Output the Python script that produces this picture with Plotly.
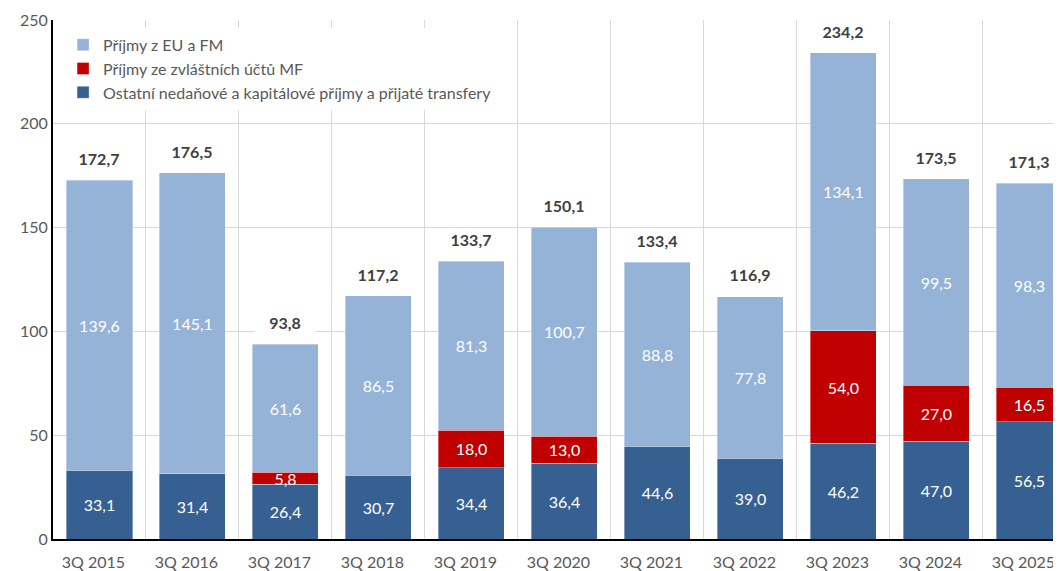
import plotly.graph_objects as go

categories = ["3Q 2015", "3Q 2016", "3Q 2017", "3Q 2018", "3Q 2019", "3Q 2020",
              "3Q 2021", "3Q 2022", "3Q 2023", "3Q 2024", "3Q 2025"]
ostatni = [33.1, 31.4, 26.4, 30.7, 34.4, 36.4, 44.6, 39.0, 46.2, 47.0, 56.5]
zvlastni_ucty = [None, None, 5.8, None, 18.0, 13.0, None, None, 54.0, 27.0, 16.5]
eu_fm = [139.6, 145.1, 61.6, 86.5, 81.3, 100.7, 88.8, 77.8, 134.1, 99.5, 98.3]
totals = [172.7, 176.5, 93.8, 117.2, 133.7, 150.1, 133.4, 116.9, 234.2, 173.5, 171.3]

names = ["Ostatní nedaňové a kapitálové příjmy a přijaté transfery",
         "Příjmy ze zvláštních účtů MF",
         "Příjmy z EU a FM"]
colors = ["#376092", "#C00000", "#95B3D7"]

FONT = "Lato"
def fmt(v):
    return "" if v is None else f"{v:.1f}".replace(".", ",")

fig = go.Figure()
for name, vals, col in zip(names, [ostatni, zvlastni_ucty, eu_fm], colors):
    fig.add_trace(go.Bar(
        x=categories, y=vals, name=name,
        marker=dict(color=col, line=dict(color="rgba(255,255,255,0.45)", width=0.8)),
        text=[fmt(v) for v in vals], textposition="inside",
        insidetextanchor="middle", constraintext="none",
        textfont=dict(family=FONT, size=16, color="white"),
        width=0.71, cliponaxis=True,
    ))

for c, t in zip(categories, totals):
    fig.add_annotation(
        x=c, y=t, text=f"<b>{fmt(t)}</b>", showarrow=False,
        yanchor="bottom", yshift=10, bgcolor="white", width=58,
        font=dict(family=FONT, size=16, color="#404040"),
    )

# the page body has an 8px margin, so the figure is sized to fit the window
fig.update_layout(
    width=1053, height=563,
    margin=dict(l=45, r=0, t=12, b=23),
    barmode="stack",
    plot_bgcolor="white", paper_bgcolor="white",
    font=dict(family=FONT, size=16, color="#595959"),
    showlegend=True,
    legend=dict(
        x=0.01, y=0.985, xanchor="left", yanchor="top",
        traceorder="reversed", bgcolor="white",
        font=dict(family=FONT, size=16, color="#595959"),
        itemwidth=30, tracegroupgap=0,
    ),
    xaxis=dict(
        type="category", range=[-0.5, 10.34],
        showline=True, linecolor="black", linewidth=2,
        showgrid=True, gridcolor="#D9D9D9", gridwidth=1,
        tickson="boundaries", ticks="",
        ticklabelstandoff=8, ticklabelshift=-6,
        tickfont=dict(family=FONT, size=16, color="#595959"),
    ),
    yaxis=dict(
        range=[0, 250], dtick=50, tick0=0,
        showline=True, linecolor="black", linewidth=2,
        showgrid=True, gridcolor="#D9D9D9", gridwidth=1,
        zeroline=False, ticks="",
        tickfont=dict(family=FONT, size=16, color="#595959"),
    ),
)

fig.write_html("out.html")
